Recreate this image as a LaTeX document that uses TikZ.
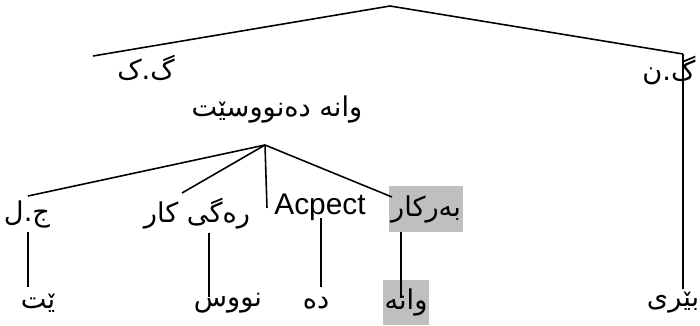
\documentclass[tikz,border=0pt]{standalone}
\usepackage{fontspec}
\setmainfont{Liberation Sans}
\newfontfamily\kurdfont[Script=Arabic]{DejaVu Sans}
\TeXXeTstate=1
\usetikzlibrary{positioning}
\tikzset{
  ku/.style={font=\kurdfont\fontsize{15.5}{18}\selectfont, inner sep=1pt},
  la/.style={font=\fontsize{17}{20}\selectfont, inner sep=1pt},
  hl/.style={fill=gray!50},
  branch/.style={black, line width=0.9pt}
}

\begin{document}
\begin{tikzpicture}[x=0.02cm, y=-0.02cm]
\useasboundingbox (0,0) rectangle (700,325);

%top of the tree
\coordinate (root) at (390,6);
\coordinate (gkend) at (93,56);
\coordinate (gnend) at (683,54);
\node[ku] (gk) at (146,68) {\beginR گ.ک\endR};
\node[ku] (gn) at (669,70) {\beginR گ.ن\endR};
\draw[branch] (root) -- (gkend);
\draw[branch] (root) -- (gnend);

%verb phrase
\node[ku] (verb) at (277,109) {\beginR وانه دەنووسێت\endR};
\coordinate (vsplit) at (265,145);
\node[ku] (jl) at (27,214) {\beginR ج.ل\endR};
\node[ku] (stem) at (197,214) {\beginR رەگی کار\endR};
\node[la] (aspect) at (320,207) {Acpect};
\node[ku,hl,minimum width=1.48cm,minimum height=0.92cm] (obj) at (426,209) {\beginR بەرکار\endR};
\coordinate (jltop) at (28,196);
\coordinate (stemtop) at (182,193);
\coordinate (aspecttop) at (267,208);
\coordinate (objtop) at (392,197);
\draw[branch] (vsplit) -- (jltop);
\draw[branch] (vsplit) -- (stemtop);
\draw[branch] (vsplit) -- (aspecttop);
\draw[branch] (vsplit) -- (objtop);

%leaves
\node[ku] (it) at (38,303) {\beginR ێت\endR};
\node[ku] (nus) at (228,303) {\beginR نووس\endR};
\node[ku] (da) at (316,303) {\beginR دە\endR};
\node[ku,hl,minimum width=0.86cm,minimum height=0.9cm] (wana) at (406,302) {\beginR وانه\endR};
\node[ku] (beri) at (673,303) {\beginR بێری\endR};
\coordinate (jlbot) at (28,232);
\coordinate (itop) at (28,287);
\coordinate (stembot) at (209,233);
\coordinate (nustop) at (209,297);
\coordinate (aspectbot) at (321,218);
\coordinate (datop) at (321,287);
\coordinate (objbot) at (401,232);
\coordinate (wanatop) at (401,298);
\coordinate (beritop) at (683,289);
\draw[branch] (jlbot) -- (itop);
\draw[branch] (stembot) -- (nustop);
\draw[branch] (aspectbot) -- (datop);
\draw[branch] (objbot) -- (wanatop);
\draw[branch] (gnend) -- (beritop);
\end{tikzpicture}
\end{document}
